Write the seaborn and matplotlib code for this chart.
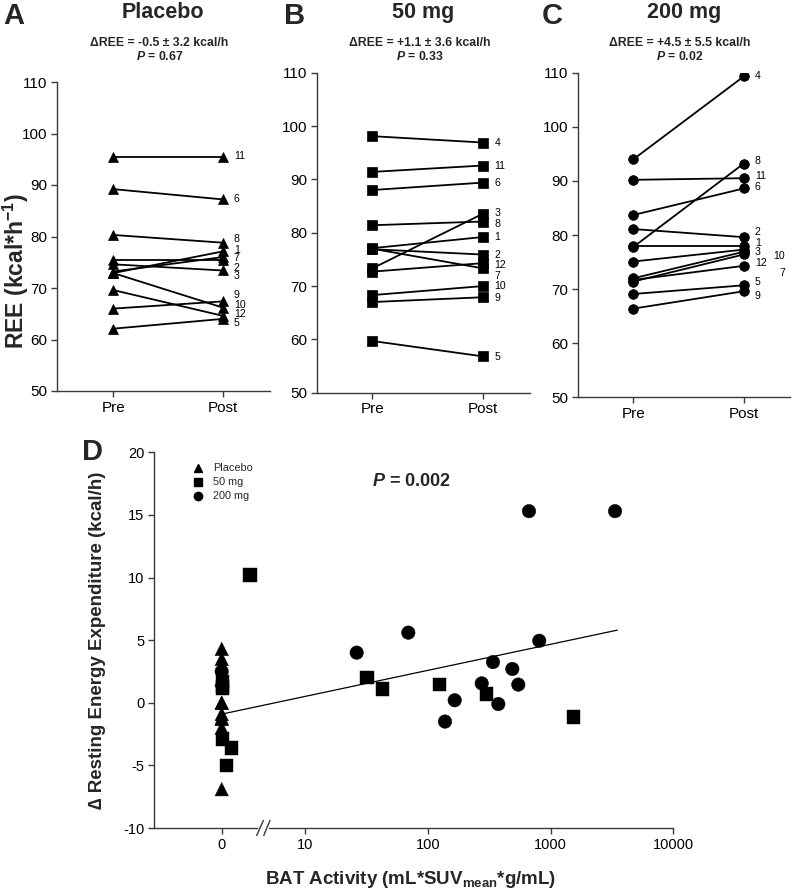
import numpy as np
import pandas as pd
import matplotlib
matplotlib.use("Agg")
import matplotlib.pyplot as plt
import matplotlib.transforms as mtransforms
from matplotlib.ticker import NullLocator
import seaborn as sns

# ---------------- data ----------------
subjects_placebo = ["1", "2", "3", "5", "6", "7", "8", "9", "10", "11", "12"]
pre_placebo = [72.9, 75.4, 74.6, 62.1, 89.2, 73.2, 80.3, 66.0, 72.9, 95.5, 69.6]
post_placebo = [77.1, 75.4, 73.4, 64.0, 87.2, 76.0, 78.8, 67.4, 66.2, 95.5, 64.6]

subjects_50 = ["1", "2", "3", "4", "5", "6", "7", "8", "9", "10", "11", "12"]
pre_50 = [77.1, 76.9, 73.3, 98.1, 59.7, 88.0, 77.0, 81.4, 67.0, 68.3, 91.4, 72.7]
post_50 = [79.2, 75.9, 83.6, 96.9, 56.8, 89.4, 73.3, 82.1, 67.9, 70.0, 92.6, 74.3]

subjects_200 = ["1", "2", "3", "4", "5", "6", "7", "8", "9", "10", "11", "12"]
pre_200 = [77.9, 81.1, 75.1, 94.0, 69.1, 83.7, 71.4, 77.8, 66.4, 72.0, 90.2, 71.7]
post_200 = [77.9, 79.6, 77.3, 109.3, 70.7, 88.6, 76.4, 93.2, 69.6, 76.9, 90.5, 74.3]

panel_titles = ["Placebo", "50 mg", "200 mg"]
panel_letters = ["A", "B", "C"]
delta_text = ["\u0394REE = -0.5 \u00b1 3.2 kcal/h",
              "\u0394REE = +1.1 \u00b1 3.6 kcal/h",
              "\u0394REE = +4.5 \u00b1 5.5 kcal/h"]
p_text = ["0.67", "0.33", "0.02"]
time_labels = ["Pre", "Post"]

# panel D: BAT activity vs delta REE
bat_placebo = [0, 0, 0, 0, 0, 0, 0, 0, 0, 0, 0]
dree_placebo = [4.3, 3.5, 0.0, -0.9, -1.3, -2.0, -6.9, 1.8, 0.0, -1.2, 1.9]
bat_50 = [3.4, 1.2, 0.6, 0.1, 0.1, 0.1, 31.9, 42.7, 124.3, 302.4, 1533, 0.1]
dree_50 = [10.2, -3.6, -5.0, -2.9, 1.7, 1.15, 2.0, 1.1, 1.45, 0.7, -1.15, 1.3]
bat_200 = [0, 26.4, 69.5, 138.3, 165.9, 275.3, 340.2, 375.8, 488.7, 546.6, 668, 810, 3354]
dree_200 = [2.5, 4.0, 5.6, -1.5, 0.2, 1.55, 3.25, -0.1, 2.7, 1.45, 15.3, 4.95, 15.3]
group_names = ["Placebo", "50 mg", "200 mg"]
reg_x = [0.4, 3500]
reg_y = [-0.85, 5.8]
p_d = "0.002"

# ---------------- style ----------------
sns.set_theme(style="ticks")
plt.rcParams["font.family"] = ["Liberation Sans", "DejaVu Sans"]
plt.rcParams["mathtext.fontset"] = "custom"
plt.rcParams["mathtext.rm"] = "Liberation Sans"
plt.rcParams["mathtext.bf"] = "Liberation Sans:bold"
plt.rcParams["mathtext.it"] = "Liberation Sans:italic"
plt.rcParams["mathtext.bfit"] = "Liberation Sans:italic:bold"
plt.rcParams["axes.unicode_minus"] = False

INK = "black"
SPINE = "#3a3a3a"
W, H = 801, 891
fig = plt.figure(figsize=(W / 100, H / 100), dpi=100)


def px_axes(left, right, top, bottom):
    return fig.add_axes([left / W, 1 - bottom / H, (right - left) / W, (bottom - top) / H])


def style_axes(ax, tick_size):
    for s in ["top", "right"]:
        ax.spines[s].set_visible(False)
    for s in ["left", "bottom"]:
        ax.spines[s].set_color(SPINE)
        ax.spines[s].set_linewidth(1.0)
    ax.tick_params(direction="out", length=4, width=1, color=SPINE,
                   labelsize=tick_size, labelcolor="black", pad=3)
    ax.grid(False)


# layout of panels A-C (pixel boxes) and label positions
boxes = [(56.7, 270, 82, 391), (316.7, 530, 72.7, 392.7), (578.3, 790, 72.7, 397.3)]
markers = ["^", "s", "o"]
msizes = [6.5, 7, 7]
label_layout = [
    {"11": (0, 95.7), "6": (0, 87.3), "8": (0, 79.45), "1": (0, 77.4), "7": (0, 75.8),
     "2": (0, 73.9), "3": (0, 72.3), "9": (0, 68.6), "10": (0, 66.7), "12": (0, 64.95), "5": (0, 63.2)},
    {"4": (0, 96.9), "11": (0, 92.5), "6": (0, 89.4), "3": (0, 83.6), "8": (0, 81.7), "1": (0, 79.1),
     "2": (0, 75.8), "12": (0, 73.9), "7": (0, 71.9), "10": (0, 70.0), "9": (0, 67.8), "5": (0, 56.75)},
    {"4": (0, 109.4), "8": (0, 93.7), "11": (0, 90.9), "6": (0, 88.9), "2": (0, 80.6), "1": (0, 78.6),
     "3": (0, 76.8), "10": (13, 76.2), "12": (0, 74.8), "7": (18, 72.9), "5": (0, 71.4), "9": (0, 68.7)},
]

sets = [(subjects_placebo, pre_placebo, post_placebo),
        (subjects_50, pre_50, post_50),
        (subjects_200, pre_200, post_200)]

for i, (subj, pre, post) in enumerate(sets):
    l, r, t, b = boxes[i]
    ax = px_axes(l, r, t, b)
    df = pd.DataFrame({
        "id": list(subj) * 2,
        "t": [0] * len(subj) + [1] * len(subj),
        "ree": list(pre) + list(post),
    })
    sns.lineplot(data=df, x="t", y="ree", units="id", estimator=None, color=INK,
                 lw=1.3, marker=markers[i], markersize=msizes[i], markeredgecolor=INK,
                 markeredgewidth=0.5, ax=ax, legend=False)
    xl = (-0.517, 1.432) if i == 0 else (-0.50, 1.42)
    ax.set_xlim(*xl)
    ax.set_ylim(50, 110)
    ax.set_xticks([0, 1])
    ax.set_xticklabels(time_labels)
    ax.set_yticks(range(50, 111, 10))
    ax.set_xlabel("")
    ax.set_ylabel("")
    style_axes(ax, 11)
    for s, p in zip(subj, post):
        dx, ly = label_layout[i][s]
        ax.annotate(s, xy=(1, ly), xytext=(8 + dx, 0), textcoords="offset points",
                    fontsize=7.6, va="center", ha="left", color=INK)
    cx = (l + r) / 2
    fig.text(cx / W, 1 - 12.5 / H, panel_titles[i], fontsize=15.5, fontweight="bold",
             ha="center", va="center")
    fig.text((cx - 4) / W, 1 - 43.5 / H, delta_text[i], fontsize=8.8, fontweight="bold",
             ha="center", va="center")
    fig.text((cx - 4) / W, 1 - 57 / H, r"$\mathbfit{P}$ = " + p_text[i], fontsize=8.8,
             fontweight="bold", ha="center", va="center")

fig.text(16 / W, 1 - 271 / H, r"REE (kcal*h$^{\mathbf{-1}}$)", fontsize=16.5, fontweight="bold",
         rotation=90, ha="center", va="center")

for letter, x in zip(panel_letters, [14, 295, 552]):
    fig.text(x / W, 1 - 16 / H, letter, fontsize=21, fontweight="bold", ha="center", va="center")

# ---------------- panel D ----------------
K = 0.6775  # decade-equivalent width of the linear 0-10 segment


def fwd(x):
    x = np.asarray(x, dtype=float)
    with np.errstate(all="ignore"):
        lg = K + np.log10(np.maximum(x, 1e-12) / 10.0)
    return np.where(x <= 10, x / 10.0 * K, lg)


def inv(u):
    u = np.asarray(u, dtype=float)
    with np.errstate(all="ignore"):
        ex = 10.0 * np.power(10.0, np.minimum(u - K, 30))
    return np.where(u <= K, u / K * 10.0, ex)


axd = px_axes(154, 673.3, 452.3, 828)
axd.set_xscale("function", functions=(fwd, inv))

dfd = pd.DataFrame({
    "bat": bat_placebo + bat_50 + bat_200,
    "dree": dree_placebo + dree_50 + dree_200,
    "group": [group_names[0]] * len(bat_placebo) + [group_names[1]] * len(bat_50)
             + [group_names[2]] * len(bat_200),
})
sns.scatterplot(data=dfd, x="bat", y="dree", style="group",
                markers={group_names[0]: "^", group_names[1]: "s", group_names[2]: "o"},
                color=INK, s=95, edgecolor=INK, linewidth=0.3, ax=axd, legend=False, zorder=3)
axd.plot(reg_x, reg_y, color=INK, lw=0.9, zorder=2)

axd.set_xlim(-8.14, 10000)
axd.set_ylim(-10, 20)
axd.set_xticks([0, 10, 100, 1000, 10000])
axd.set_xticklabels(["0", "10", "100", "1000", "10000"])
axd.xaxis.set_minor_locator(NullLocator())
axd.set_yticks(range(-10, 21, 5))
style_axes(axd, 10.5)
axd.set_xlabel("")
axd.set_ylabel("")
fig.text(411 / W, 1 - 880 / H, r"BAT Activity (mL*SUV$_{\mathbf{mean}}$*g/mL)", fontsize=13.5,
         fontweight="bold", ha="center", va="center")
fig.text(97 / W, 1 - 640 / H, "\u2206 Resting Energy Expenditure (kcal/h)", fontsize=13.5,
         fontweight="bold", rotation=90, ha="center", va="center")

# axis break marks
trans = mtransforms.blended_transform_factory(axd.transData, axd.transAxes)
axd.plot([4.55, 5.45], [0, 0], color="white", lw=3, transform=trans, clip_on=False, zorder=5)
axd.plot([4.2, 5.0], [-0.02, 0.02], color=SPINE, lw=1, transform=trans, clip_on=False, zorder=6)
axd.plot([5.05, 5.8], [-0.02, 0.02], color=SPINE, lw=1, transform=trans, clip_on=False, zorder=6)

# legend
for j, (m, name) in enumerate(zip(["^", "s", "o"], group_names)):
    y = 468.3 + j * 13.7
    fig.lines.append(plt.Line2D([198.3 / W], [1 - y / H], marker=m, color=INK, markersize=6,
                                linestyle="none", transform=fig.transFigure))
    fig.text(213 / W, 1 - y / H, name, fontsize=7.8, ha="left", va="center")

fig.text(411 / W, 1 - 481.5 / H, r"$\mathbfit{P}$ = " + p_d, fontsize=13, fontweight="bold",
         ha="center", va="center")
fig.text(92 / W, 1 - 452 / H, "D", fontsize=21, fontweight="bold", ha="center", va="center")

fig.savefig("out.png", dpi=100)
